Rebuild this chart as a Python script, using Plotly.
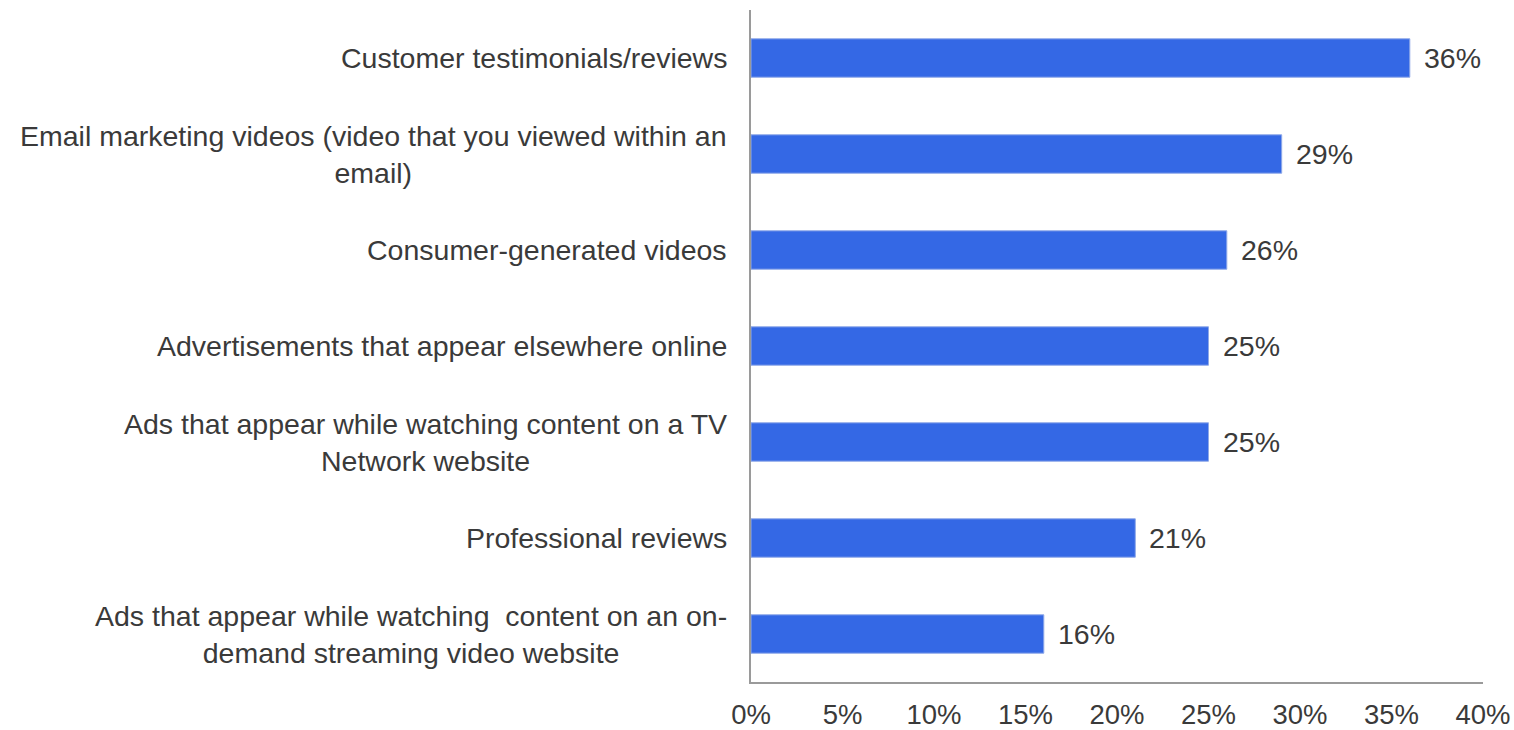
import plotly.graph_objects as go

# Survey categories, top to bottom
categories = [
    "Customer testimonials/reviews",
    "Email marketing videos (video that you viewed within an<br>email)",
    "Consumer-generated videos",
    "Advertisements that appear elsewhere online",
    "Ads that appear while watching content on a TV<br>Network website",
    "Professional reviews",
    "Ads that appear while watching  content on an on-<br>demand streaming video website",
]
shares = [36, 29, 26, 25, 25, 21, 16]  # percent of respondents
x_ticks = [0, 5, 10, 15, 20, 25, 30, 35, 40]
x_tick_labels = [f"{t}%" for t in x_ticks]

FONT = "Liberation Sans, Arial, sans-serif"
TEXT_COLOR = "#3a3a3a"
BAR_COLOR = "#3468E5"
AXIS_COLOR = "#9a9a9a"
FONT_SIZE = 28.5

cat_ids = list(range(len(categories)))

fig = go.Figure(
    go.Bar(
        x=shares,
        y=cat_ids,
        orientation="h",
        marker=dict(color=BAR_COLOR, line=dict(color="#8fa9e8", width=1)),
        hoverinfo="skip",
    )
)

annotations = []
# Category labels, centred line by line, right-aligned to the axis
for i, name in enumerate(categories):
    annotations.append(dict(
        x=0, y=i, xref="paper", yref="y",
        text=name, showarrow=False,
        xanchor="right", yanchor="middle", align="center",
        xshift=-22,
        font=dict(family=FONT, size=FONT_SIZE, color=TEXT_COLOR),
    ))
# Value labels beside each bar
for i, v in enumerate(shares):
    annotations.append(dict(
        x=v, y=i, xref="x", yref="y",
        text=f"{v:.0f}%", showarrow=False,
        xanchor="left", yanchor="middle",
        xshift=12,
        font=dict(family=FONT, size=FONT_SIZE, color=TEXT_COLOR),
    ))

fig.update_layout(
    width=1514, height=730,
    margin=dict(l=751, r=31, t=10, b=48, autoexpand=False),
    paper_bgcolor="white", plot_bgcolor="white",
    bargap=0.6,
    showlegend=False,
    annotations=annotations,
    font=dict(family=FONT, size=FONT_SIZE, color=TEXT_COLOR),
)
fig.update_xaxes(
    range=[0, 40],
    tickvals=x_ticks, ticktext=x_tick_labels,
    showgrid=False, zeroline=False, automargin=False,
    showline=True, linecolor=AXIS_COLOR, linewidth=2,
    ticks="outside", ticklen=7, tickcolor="rgba(0,0,0,0)",
    tickfont=dict(family=FONT, size=27.5, color=TEXT_COLOR),
)
fig.update_yaxes(
    range=[len(categories) - 0.5, -0.5],
    tickvals=cat_ids, showticklabels=False,
    showgrid=False, zeroline=False, automargin=False,
    showline=True, linecolor=AXIS_COLOR, linewidth=2,
)

fig.write_html("out.html")
